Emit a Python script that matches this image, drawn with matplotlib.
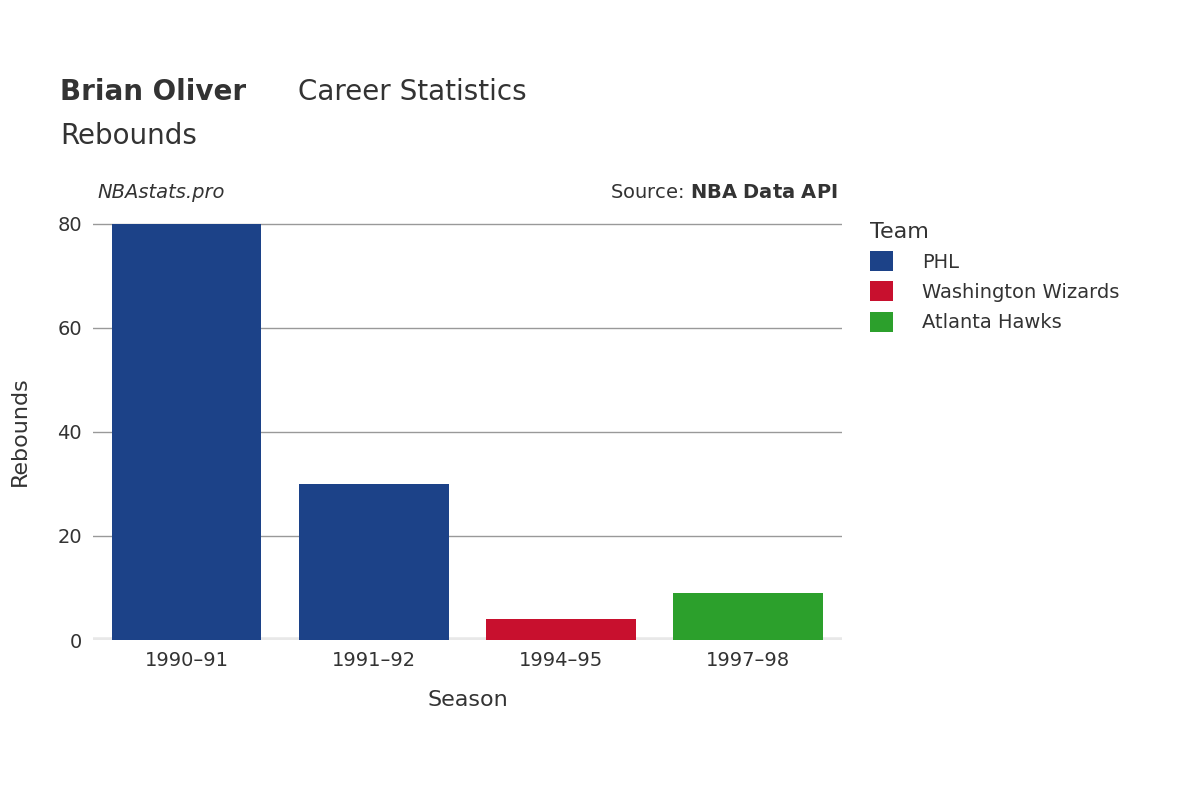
import matplotlib
matplotlib.use("Agg")
import matplotlib.pyplot as plt
from matplotlib.patches import Patch

seasons = ["1990–91", "1991–92", "1994–95", "1997–98"]
rebounds = [80, 30, 4, 9]
teams = ["PHL", "PHL", "Washington Wizards", "Atlanta Hawks"]
team_colors = {"PHL": "#1c4288", "Washington Wizards": "#c8102e", "Atlanta Hawks": "#2ca02c"}
legend_teams = ["PHL", "Washington Wizards", "Atlanta Hawks"]

plt.rcParams["font.family"] = "DejaVu Sans"
fig = plt.figure(figsize=(12, 8), dpi=100)
ax = fig.add_axes([0.0775, 0.2, 0.624, 0.5225])
x = range(len(seasons))
ax.bar(x, rebounds, width=0.8, color=[team_colors[t] for t in teams], zorder=3)
ax.set_xlim(-0.5, 3.5)
ax.set_ylim(0, 80.3)
ax.set_yticks([0, 20, 40, 60, 80])
ax.set_xticks(list(x))
ax.set_xticklabels(seasons)
ax.grid(axis="y", color="#999999", linewidth=1, zorder=0)
ax.axhline(0, color="#e8e8e8", linewidth=4, zorder=2)
for s in ax.spines.values():
    s.set_visible(False)
ax.tick_params(length=0, labelsize=14, colors="#333333", pad=8)
ax.set_xlabel("Season", fontsize=16, color="#333333", labelpad=14)
ax.set_ylabel("Rebounds", fontsize=16, color="#333333", labelpad=20)

fig.text(0.05, 0.875, "Brian Oliver", fontsize=20, fontweight="bold", color="#333333")
fig.text(0.248, 0.875, "Career Statistics", fontsize=20, color="#333333")
fig.text(0.05, 0.82, "Rebounds", fontsize=20, color="#333333")
fig.text(0.081, 0.752, "NBAstats.pro", fontsize=14, style="italic", color="#333333")
fig.text(0.698, 0.752, "Source: $\\bf{NBA\\ Data\\ API}$", fontsize=14, color="#333333", ha="right")

handles = [Patch(facecolor=team_colors[t], label=t) for t in legend_teams]
leg = fig.legend(handles=handles, loc="upper left", bbox_to_anchor=(0.71, 0.745),
                 frameon=False, fontsize=14, title="Team", title_fontsize=16,
                 handlelength=1.2, handleheight=1.2, labelspacing=0.5, handletextpad=1.5)
leg._legend_box.align = "left"
for t in leg.get_texts():
    t.set_color("#333333")
leg.get_title().set_color("#333333")
fig.savefig("out.png")
